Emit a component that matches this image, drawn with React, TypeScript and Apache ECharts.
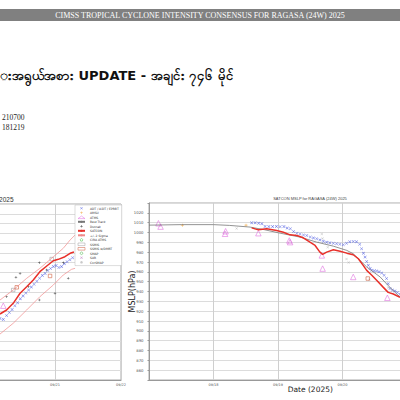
import React, { useEffect, useRef } from "react";
import * as echarts from "echarts";

// ---------- texts ----------
const headerText = "CIMSS TROPICAL CYCLONE INTENSITY CONSENSUS FOR RAGASA (24W) 2025";
const pageTitle = "းအရွယ်အစား UPDATE - အချင်း ၇၄၆ မိုင်";
const infoLines = ["210700", "181219"];
const leftTitleTail = "2025";
const rightTitle = "SATCON MSLP for RAGASA (24W) 2025";
const legendNames = [
  "ADT / AiDT / EPRBT",
  "AMSU",
  "ATMS",
  "Best Track",
  "Dvorak",
  "SATCON",
  "+/- 2 Sigma",
  "CIRA ATMS",
  "SSMIS",
  "SSMIS w/DMRT",
  "SMAP",
  "SAR",
  "CorSMAP",
];
const hollowLegend: Record<string, string> = {
  ATMS: "#dd66dd",
  "CIRA ATMS": "#33bb33",
  SSMIS: "#999999",
  "SSMIS w/DMRT": "#cc5533",
  SMAP: "#33aa33",
};

// hours since 09/17 00Z
const hourTicksStart = 0;
const hourTicksEnd = 120;
const hourStep = 24;

// ---------- left chart (intensity, kt) ----------
const leftSatcon = [
  [76.0, 67.5], [78.4, 71.6], [80.8, 78.4], [83.3, 88.7], [85.7, 95.4], [88.1, 102.3],
  [90.5, 110.8], [93.0, 116.6], [95.4, 122.0], [97.2, 123.4], [99.6, 126.1], [101.5, 129.6], [102.9, 130.9],
];
const leftSigmaUpper = [
  [76, 81.8], [80.8, 92], [85.7, 104], [90.5, 114.2], [95.4, 126], [99, 134.7], [101.5, 143.2], [103.3, 148.3],
];
const leftSigmaLower = [
  [76, 47], [80.8, 58], [85.7, 71.6], [90.5, 85.2], [95.4, 97.2], [99, 107.4], [102, 113.2], [103.3, 114.2],
];
const leftAdt = [
  [76, 63], [77.2, 62], [78.4, 66], [79.4, 69], [80.4, 72], [81.4, 76], [82.4, 79], [83.4, 83], [84.4, 86],
  [85.4, 89], [86.4, 92], [87.4, 95], [88.4, 98], [89.4, 101], [90.4, 104], [91.4, 107], [92.4, 109],
  [93.4, 112], [94.4, 114], [95.4, 116], [96.4, 117], [97.4, 115], [98.4, 116], [99.4, 119], [100.4, 121],
  [101.4, 123], [102.4, 125],
];
const leftDvorak = [
  [78.4, 85.2], [81.8, 105], [83.3, 109], [86.3, 95.4], [90.3, 120], [90.3, 81.8], [93, 112.5],
  [96, 88.7], [99, 120], [100.8, 104],
];
const leftAtms = [[77.2, 76]];
const leftSsmisDmrt = [[82.1, 94.8], [94.2, 106.4]];
const leftSsmis = [[80.8, 92], [94.8, 123.7]];

// ---------- right chart (MSLP, hPa) ----------
const rightBestTrack = [
  [0, 1007.5], [12, 1008], [24, 1008], [30, 1007.2], [37.6, 1005.5], [43, 1002.8], [48.1, 999.7],
  [56.2, 995.3], [62.4, 990.2], [68.6, 986.1], [73.6, 981.8], [76, 978.4], [78.5, 971.7], [81, 964.9],
  [83.5, 959.8], [86, 954.8], [89, 946], [92, 938], [94, 933],
];
const rightSatcon = [
  [38.2, 1004.7], [40.7, 1002.7], [43.8, 1003.7], [47.5, 1002.0], [50.0, 1000.3], [52.5, 997.6],
  [55.0, 996.9], [57.4, 994.6], [59.9, 990.1], [61.8, 986.8], [63.6, 980.0], [64.6, 977.7], [66.1, 980.0],
  [68.6, 982.4], [71.1, 981.0], [73.6, 979.0], [76.0, 977.4], [77.9, 973.3], [79.7, 966.6], [81.0, 961.5],
  [82.9, 956.5], [84.7, 951.4], [87.2, 944.2], [89.0, 939.1], [90.9, 937.5], [93.4, 934.1],
];
const rightAdt = [
  [38.2, 1009.8], [39.5, 1009.8], [40.8, 1009.5], [42.0, 1009.0], [43.2, 1006.2], [44.6, 1006.0],
  [46.0, 1006.0], [47.4, 1006.2], [48.8, 1005.8], [50.2, 1006.0], [51.4, 1004.5], [52.6, 1003.8],
  [53.8, 1001.0], [55.0, 999.3], [56.2, 998.5], [57.5, 997.5], [58.7, 997.0], [60.0, 995.5], [61.2, 994.5],
  [62.4, 993.6], [63.6, 992.5], [64.9, 991.2], [66.1, 990.2], [67.3, 989.5], [68.6, 989.0], [69.8, 988.5],
  [71.0, 988.0], [72.3, 987.5], [73.5, 989.0], [74.7, 990.5], [76.0, 990.8], [77.2, 990.5], [78.4, 988.0],
  [79.1, 983.5], [79.8, 979.0], [80.4, 975.0], [81.0, 970.5], [81.6, 966.6], [82.3, 963.5], [82.9, 961.6],
  [83.8, 961.0], [84.7, 960.9], [85.6, 960.0], [86.6, 958.8], [87.5, 956.5], [88.4, 953.2], [89.0, 948.0],
  [89.7, 943.1], [90.6, 941.5], [91.5, 940.6], [92.4, 939.0], [93.4, 937.3],
];
const rightAtms = [
  [3.5, 1009.4], [4.3, 1006], [28.3, 998.7], [28.5, 1001.3], [40.7, 999.3], [52.2, 991.9], [52.5, 990.2],
  [64.3, 976.7], [64.6, 963.3], [76, 954.8], [88.7, 933.6],
];
const rightAmsu = [[12.4, 1007.5], [36.1, 1007.5]];
const rightGray = [
  [32.6, 1004], [64.3, 998.5], [64.6, 994], [66.5, 985], [73.5, 973], [74.3, 969.5], [82, 952], [89, 944],
];
const rightSsmisDmrt = [[81.4, 953.2]];

const X_PATH = "path://M0,1L1,0L5,4L9,0L10,1L6,5L10,9L9,10L5,6L1,10L0,9L4,5Z";
const PLUS_PATH = "path://M4,0H6V4H10V6H6V10H4V6H0V4H4Z";
const PENT_PATH = "path://M5,0L10,3.8L8.1,10H1.9L0,3.8Z";

const dateLabel = (v: number) => {
  const d = 17 + Math.round(v / 24);
  return "09/" + String(d).padStart(2, "0");
};

export default function App() {
  const ref = useRef<HTMLDivElement>(null);
  useEffect(() => {
    if (!ref.current) return;
    const chart = echarts.init(ref.current, undefined, { renderer: "svg" });
    const gridLine = { show: true, lineStyle: { color: "#dcdcdc", width: 1 } };
    const axisLine = { show: true, lineStyle: { color: "#999", width: 1 } };
    const hollow = (c: string) => ({ color: "rgba(0,0,0,0)", borderColor: c, borderWidth: 0.7 });

    const option: any = {
      animation: false,
      backgroundColor: "#fff",
      textStyle: { fontFamily: "DejaVu Sans" },
      graphic: [
        { type: "rect", shape: { x: 0, y: 9, width: 400, height: 12 }, style: { fill: "#808080" } },
        {
          type: "text", x: 200, y: 15.5,
          style: { text: headerText, fill: "#fff", fontSize: 8, fontFamily: "Liberation Serif", align: "center", verticalAlign: "middle" },
        },
        {
          type: "text", x: 0, y: 75,
          style: { text: pageTitle, fill: "#111", fontSize: 13, fontWeight: "bold", fontFamily: "DejaVu Sans", align: "left", verticalAlign: "middle" },
        },
        ...infoLines.map((t, i) => ({
          type: "text", x: 2, y: 117 + i * 10,
          style: { text: t, fill: "#222", fontSize: 7.5, fontFamily: "Liberation Serif", align: "left", verticalAlign: "middle" },
        })),
        {
          type: "text", x: 13.5, y: 199.5,
          style: { text: leftTitleTail, fill: "#333", fontSize: 6.5, align: "right", verticalAlign: "middle" },
        },
        {
          type: "text", x: 310, y: 198.5,
          style: { text: rightTitle, fill: "#444", fontSize: 4, align: "center", verticalAlign: "middle" },
        },
      ],
      legend: {
        data: legendNames.map((n) =>
          hollowLegend[n]
            ? { name: n, itemStyle: { color: "rgba(0,0,0,0)", borderColor: hollowLegend[n], borderWidth: 0.6 } }
            : { name: n }
        ),
        orient: "vertical",
        left: 75,
        top: 205,
        itemWidth: 7,
        itemHeight: 2.6,
        itemGap: 0.9,
        padding: [1.5, 3, 1.5, 2],
        backgroundColor: "#fff",
        borderColor: "#bbb",
        borderWidth: 0.5,
        selectedMode: false,
        textStyle: { fontSize: 3, color: "#333", lineHeight: 3.6 },
      },
      grid: [
        { left: -209, top: 204, width: 330, height: 176, show: true, borderColor: "#aaa", borderWidth: 1, backgroundColor: "#fff", outerBoundsMode: "none", containLabel: false },
        { left: 149, top: 203, width: 322.5, height: 177, show: true, borderColor: "#aaa", borderWidth: 1, backgroundColor: "#fff", outerBoundsMode: "none", containLabel: false },
      ],
      xAxis: [0, 1].map((g) => ({
        type: "value", gridIndex: g, min: hourTicksStart, max: hourTicksEnd, interval: hourStep,
        axisLine, axisTick: { show: false },
        splitLine: { show: true, lineStyle: { color: "#cfcfcf", width: 1 } },
        axisLabel: {
          fontSize: 3.5, color: "#555", margin: 2.5,
          formatter: (v: number) =>
            g === 0 ? (v >= 96 ? dateLabel(v) : "") : v > 0 && v < 96 ? dateLabel(v) : "",
        },
        ...(g === 1
          ? { name: "Date (2025)", nameLocation: "middle", nameGap: 5, nameMoveOverlap: false, nameTextStyle: { fontSize: 7.5, color: "#222" } }
          : {}),
      })),
      yAxis: [
        {
          type: "value", gridIndex: 0, min: 0, max: 180, interval: 10,
          axisLine, axisTick: { show: false }, splitLine: gridLine,
          axisLabel: { show: false },
        },
        {
          type: "value", gridIndex: 1, min: 850, max: 1030, interval: 10,
          axisLine, axisTick: { show: true, length: 1.5, lineStyle: { color: "#999" } }, splitLine: gridLine,
          axisLabel: { fontSize: 3.8, color: "#555", margin: 5.5, formatter: (v: number) => (v <= 850 || v >= 1030 ? "" : String(v)) },
          name: "MSLP(hPa)", nameLocation: "middle", nameGap: 12.5, nameMoveOverlap: false, nameTextStyle: { fontSize: 8, color: "#222" },
        },
      ],
      series: [
        // ---- left chart ----
        { name: "+/- 2 Sigma", type: "line", xAxisIndex: 0, yAxisIndex: 0, data: leftSigmaUpper, symbol: "none", lineStyle: { color: "#f08a8a", width: 0.7 }, itemStyle: { color: "#f08a8a" } },
        { name: "+/- 2 Sigma", type: "line", xAxisIndex: 0, yAxisIndex: 0, data: leftSigmaLower, symbol: "none", lineStyle: { color: "#f08a8a", width: 0.7 }, itemStyle: { color: "#f08a8a" } },
        { name: "ADT / AiDT / EPRBT", type: "scatter", xAxisIndex: 0, yAxisIndex: 0, data: leftAdt, symbol: X_PATH, symbolSize: 3, itemStyle: { color: "#3344dd" } },
        { name: "AMSU", type: "scatter", xAxisIndex: 0, yAxisIndex: 0, data: [], symbol: PLUS_PATH, symbolSize: 3, itemStyle: { color: "#f0a030" } },
        { name: "ATMS", type: "scatter", xAxisIndex: 0, yAxisIndex: 0, data: leftAtms, symbol: "triangle", symbolSize: 5.5, itemStyle: hollow("#dd66dd") },
        { name: "Best Track", type: "line", xAxisIndex: 0, yAxisIndex: 0, data: [], symbol: "none", lineStyle: { color: "#777", width: 0.8 }, itemStyle: { color: "#777" } },
        { name: "Dvorak", type: "scatter", xAxisIndex: 0, yAxisIndex: 0, data: leftDvorak, symbol: PLUS_PATH, symbolSize: 2.5, itemStyle: { color: "#222" } },
        { name: "CIRA ATMS", type: "scatter", xAxisIndex: 0, yAxisIndex: 0, data: [], symbol: PENT_PATH, symbolSize: 3.5, itemStyle: hollow("#33bb33") },
        { name: "SSMIS", type: "scatter", xAxisIndex: 0, yAxisIndex: 0, data: leftSsmis, symbol: "rect", symbolSize: 3.5, itemStyle: hollow("#999") },
        { name: "SSMIS w/DMRT", type: "scatter", xAxisIndex: 0, yAxisIndex: 0, data: leftSsmisDmrt, symbol: "rect", symbolSize: 3.5, itemStyle: hollow("#cc5533") },
        { name: "SMAP", type: "scatter", xAxisIndex: 0, yAxisIndex: 0, data: [], symbol: "circle", symbolSize: 3.5, itemStyle: hollow("#33aa33") },
        { name: "SAR", type: "scatter", xAxisIndex: 0, yAxisIndex: 0, data: [], symbol: X_PATH, symbolSize: 3, itemStyle: { color: "#aa55aa" } },
        { name: "CorSMAP", type: "scatter", xAxisIndex: 0, yAxisIndex: 0, data: [], symbol: "circle", symbolSize: 2, itemStyle: { color: "#bbb" } },
        { name: "SATCON", type: "line", xAxisIndex: 0, yAxisIndex: 0, data: leftSatcon, symbol: "none", lineStyle: { color: "#e8302a", width: 1.5 }, itemStyle: { color: "#e8302a" } },
        // ---- right chart ----
        { name: "Best Track", type: "line", xAxisIndex: 1, yAxisIndex: 1, data: rightBestTrack, symbol: "none", lineStyle: { color: "#777", width: 0.8 } },
        { name: "Dvorak", type: "scatter", xAxisIndex: 1, yAxisIndex: 1, data: rightGray, symbol: X_PATH, symbolSize: 2.5, itemStyle: { color: "#aaa" } },
        { name: "ADT / AiDT / EPRBT", type: "scatter", xAxisIndex: 1, yAxisIndex: 1, data: rightAdt, symbol: X_PATH, symbolSize: 3, itemStyle: { color: "#3344dd" } },
        { name: "AMSU", type: "scatter", xAxisIndex: 1, yAxisIndex: 1, data: rightAmsu, symbol: PLUS_PATH, symbolSize: 3, itemStyle: { color: "#f0a030" } },
        { name: "ATMS", type: "scatter", xAxisIndex: 1, yAxisIndex: 1, data: rightAtms, symbol: "triangle", symbolSize: 5.5, itemStyle: hollow("#dd66dd") },
        { name: "SSMIS w/DMRT", type: "scatter", xAxisIndex: 1, yAxisIndex: 1, data: rightSsmisDmrt, symbol: "rect", symbolSize: 3.5, itemStyle: hollow("#cc5533") },
        { name: "SATCON", type: "line", xAxisIndex: 1, yAxisIndex: 1, data: rightSatcon, symbol: "none", lineStyle: { color: "#e8302a", width: 1.5 } },
      ],
    };
    chart.setOption(option);
    return () => chart.dispose();
  }, []);
  return <div ref={ref} style={{ position: "fixed", left: 0, top: 0, width: 400, height: 400 }} />;
}
